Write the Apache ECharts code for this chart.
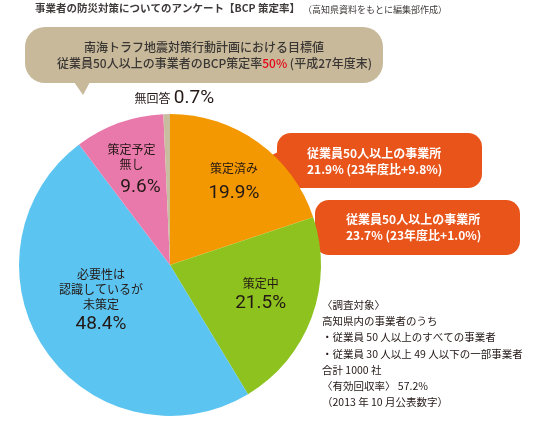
<!DOCTYPE html>
<html><head><meta charset="utf-8">
<script src="https://cdn.jsdelivr.net/npm/echarts@6/dist/echarts.min.js"></script>
<style>html,body{margin:0;padding:0;background:#fff}#c{width:543px;height:426px}</style>
</head><body><div id="c"></div>
<script>
const categories = ['策定済み', '策定中', '必要性は認識しているが未策定', '策定予定無し', '無回答'];
const labelNames = ['策定済み', '策定中', '必要性は\n認識しているが\n未策定', '策定予定\n無し', '無回答'];
const values = [19.9, 21.5, 48.4, 9.6, 0.7];
const colors = ['#F39800', '#8DC21F', '#5BC4F1', '#EA79AB', '#C9BD9F'];
const labelOffsets = [[18, -16], [17, 4], [-4, -7], [-12, -19], [6, -88]];
const valueStyles = ['w', 'v', 'v', 'x', 'v'];

const title = '事業者の防災対策についてのアンケート【BCP 策定率】';
const subtitle = '（高知県資料をもとに編集部作成）';
const targetLine1 = '南海トラフ地震対策行動計画における目標値';
const targetLine2a = '従業員50人以上の事業者のBCP策定率';
const targetValue = '50%';
const targetLine2b = ' (平成27年度末)';
const callout1 = ['従業員50人以上の事業所', '21.9% (23年度比+9.8%)'];
const callout2 = ['従業員50人以上の事業所', '23.7% (23年度比+1.0%)'];
const notes = ['〈調査対象〉', '高知県内の事業者のうち', '・従業員 50 人以上のすべての事業者', '・従業員 30 人以上 49 人以下の一部事業者', '合計 1000 社', '〈有効回収率〉 57.2%', '（2013 年 10 月公表数字）'];

const FONT = '"Noto Sans CJK JP", "Noto Sans", sans-serif';
const NUMFONT = 'Roboto, "Noto Sans CJK JP", sans-serif';
const chart = echarts.init(document.getElementById('c'));

const data = categories.map((c, i) => {
  const isGray = i === 4;
  const vs = valueStyles[i];
  return {
    name: c,
    value: values[i],
    itemStyle: { color: colors[i] },
    label: {
      offset: labelOffsets[i],
      formatter: () => isGray
        ? '{n|' + labelNames[i] + '} {v|' + values[i].toFixed(1) + '%}'
        : labelNames[i].split('\n').map(s => '{n|' + s + '}').join('\n') + '\n{' + vs + '|' + values[i].toFixed(1) + '%}'
    }
  };
});

const graphic = [
  { type: 'text', left: 35, top: 3, style: { text: title, font: 'bold 10.5px ' + FONT, fill: '#3e3a39' } },
  { type: 'text', left: 303, top: 5, style: { text: subtitle, font: '9px ' + FONT, fill: '#3e3a39' } },
  { type: 'rect', shape: { x: 25, y: 27, width: 358, height: 56, r: 20 }, style: { fill: '#C7B99A' } },
  { type: 'polygon', shape: { points: [[74, 82], [90, 82], [83, 95]] }, style: { fill: '#C7B99A' } },
  { type: 'text', x: 204, y: 47, style: { text: targetLine1, font: '500 12px ' + FONT, fill: '#3a3634', align: 'center', verticalAlign: 'middle' } },
  { type: 'text', x: 57, y: 63, style: {
      text: '{a|' + targetLine2a + '}{r|' + targetValue + '}{a|' + targetLine2b + '}',
      verticalAlign: 'middle',
      rich: { a: { font: '500 12px ' + FONT, fill: '#3a3634' }, r: { font: '500 12px ' + FONT, fill: '#E60012' } } } },
  { type: 'rect', shape: { x: 277, y: 133, width: 205, height: 55, r: 14 }, style: { fill: '#E8541A' } },
  { type: 'polygon', shape: { points: [[280, 151], [258, 162], [280, 168]] }, style: { fill: '#E8541A' } },
  { type: 'text', x: 307, y: 153, style: { text: callout1[0], font: 'bold 12px ' + FONT, fill: '#fff', verticalAlign: 'middle' } },
  { type: 'text', x: 307, y: 169, style: { text: callout1[1], font: 'bold 12px ' + FONT, fill: '#fff', verticalAlign: 'middle' } },
  { type: 'rect', shape: { x: 315, y: 200, width: 205, height: 55, r: 14 }, style: { fill: '#E8541A' } },
  { type: 'polygon', shape: { points: [[318, 227], [290, 243], [320, 246]] }, style: { fill: '#E8541A' } },
  { type: 'text', x: 346, y: 219, style: { text: callout2[0], font: 'bold 12px ' + FONT, fill: '#fff', verticalAlign: 'middle' } },
  { type: 'text', x: 346, y: 235, style: { text: callout2[1], font: 'bold 12px ' + FONT, fill: '#fff', verticalAlign: 'middle' } }
];
notes.forEach((t, i) => {
  graphic.push({ type: 'text', x: 322, y: 305 + i * 16.2, style: { text: t, font: '10.5px ' + FONT, fill: '#231815', verticalAlign: 'middle' } });
});

chart.setOption({
  animation: false,
  graphic: graphic,
  series: [{
    type: 'pie',
    center: [170, 265],
    radius: [0, 151],
    startAngle: 90,
    clockwise: true,
    avoidLabelOverlap: false,
    itemStyle: { borderWidth: 0 },
    label: {
      show: true,
      position: 'inside',
      rotate: 0,
      lineHeight: 15,
      rich: {
        n: { fontFamily: FONT, fontSize: 12, color: '#231815', lineHeight: 15, align: 'center' },
        v: { fontFamily: NUMFONT, fontSize: 19, color: '#231815', lineHeight: 26, align: 'center' },
        w: { fontFamily: NUMFONT, fontSize: 19, color: '#231815', lineHeight: 34, align: 'center' },
        x: { fontFamily: NUMFONT, fontSize: 19, color: '#231815', lineHeight: 31, align: 'center', padding: [0, 0, 0, 18] }
      }
    },
    labelLine: { show: false },
    emphasis: { disabled: true },
    data: data
  }]
});
</script></body></html>
